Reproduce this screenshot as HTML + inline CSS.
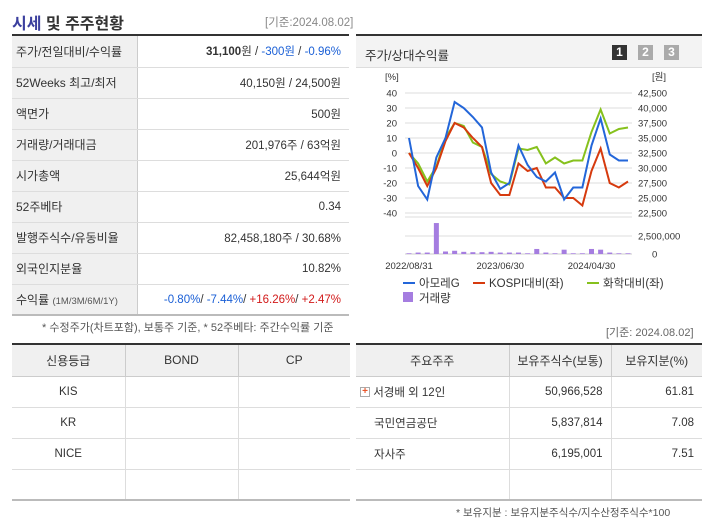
<!DOCTYPE html>
<html><head><meta charset="utf-8"><style>
*{margin:0;padding:0;box-sizing:border-box}
body{width:702px;height:525px;background:#fff;font-family:"Liberation Sans","Noto Sans CJK KR",sans-serif;font-size:12px;color:#333;position:relative;overflow:hidden}
.abs{position:absolute}
table{border-collapse:collapse;position:absolute;table-layout:fixed}
td,th{font-weight:normal;white-space:nowrap;overflow:hidden}
#t1 td{height:31px;border-bottom:1px solid #ddd;padding:0 8px}
#t1 td.l{background:#f0f0f0;border-right:1px solid #ccc;text-align:left;color:#333;font-size:12px;padding:0 4px}
#t1 td.r{text-align:right;font-size:11.5px}
.blue{color:#1a5fd6}.red{color:#d21a1a}
.t2 th{background:#f0f0f0;height:31px;border-right:1px solid #ccc;border-bottom:1px solid #ccc;font-size:12px}
.t2 td{height:31px;border-right:1px solid #ddd;border-bottom:1px solid #ddd;font-size:11.5px}
.t2 th:last-child,.t2 td:last-child{border-right:none}
</style></head><body>
<div class="abs" style="left:12px;top:10px;font-size:16px;font-weight:bold;color:#333"><span style="color:#3b3f9e">시세</span> 및 주주현황</div>
<div class="abs" style="left:265px;top:14px;font-size:11.5px;color:#888">[기준:2024.08.02]</div>
<div class="abs" style="left:12px;top:34px;width:337px;height:2px;background:#333"></div>
<table id="t1" style="left:12px;top:36px;width:337px">
<colgroup><col style="width:125px"><col></colgroup>
<tr><td class="l">주가/전일대비/수익률</td><td class="r"><b>31,100</b>원 / <span class="blue">-300원</span> / <span class="blue">-0.96%</span></td></tr>
<tr><td class="l">52Weeks 최고/최저</td><td class="r">40,150원 / 24,500원</td></tr>
<tr><td class="l">액면가</td><td class="r">500원</td></tr>
<tr><td class="l">거래량/거래대금</td><td class="r">201,976주 / 63억원</td></tr>
<tr><td class="l">시가총액</td><td class="r">25,644억원</td></tr>
<tr><td class="l">52주베타</td><td class="r">0.34</td></tr>
<tr><td class="l">발행주식수/유동비율</td><td class="r">82,458,180주 / 30.68%</td></tr>
<tr><td class="l">외국인지분율</td><td class="r">10.82%</td></tr>
<tr><td class="l">수익률 <span style="font-size:9.5px;color:#555">(1M/3M/6M/1Y)</span></td><td class="r"><span class="blue">-0.80%</span>/ <span class="blue">-7.44%</span>/ <span class="red">+16.26%</span>/ <span class="red">+2.47%</span></td></tr>
</table>
<div class="abs" style="left:12px;top:314px;width:337px;height:2px;background:#bbb"></div>
<div class="abs" style="left:42px;top:319px;font-size:11px;color:#555">* 수정주가(차트포함), 보통주 기준, * 52주베타: 주간수익률 기준</div>

<div class="abs" style="left:356px;top:34px;width:346px;height:275px;border-top:2px solid #333">
<div style="height:32px;background:#f3f3f3;border-bottom:1px solid #ddd;padding:9px 0 0 9px;font-size:12.5px">주가/상대수익률</div>
<div class="abs" style="left:256px;top:9px;width:15px;height:15px;background:#333;color:#fff;font-weight:bold;text-align:center;line-height:15px;font-size:12px">1</div>
<div class="abs" style="left:282px;top:9px;width:15px;height:15px;background:#aaa;color:#fff;font-weight:bold;text-align:center;line-height:15px;font-size:12px">2</div>
<div class="abs" style="left:308px;top:9px;width:15px;height:15px;background:#aaa;color:#fff;font-weight:bold;text-align:center;line-height:15px;font-size:12px">3</div>
</div>
<svg id="chart" class="abs" style="left:0;top:0" width="702" height="310"></svg>

<div class="abs" style="left:606px;top:324px;font-size:11px;color:#666">[기준: 2024.08.02]</div>
<div class="abs" style="left:12px;top:343px;width:338px;height:2px;background:#333"></div>
<table class="t2" style="left:12px;top:345px;width:338px;text-align:center">
<colgroup><col style="width:113px"><col style="width:113px"><col></colgroup>
<tr><th>신용등급</th><th>BOND</th><th>CP</th></tr>
<tr><td>KIS</td><td></td><td></td></tr>
<tr><td>KR</td><td></td><td></td></tr>
<tr><td>NICE</td><td></td><td></td></tr>
<tr><td></td><td></td><td></td></tr>
</table>
<div class="abs" style="left:12px;top:499px;width:338px;height:2px;background:#bbb"></div>

<div class="abs" style="left:356px;top:343px;width:346px;height:2px;background:#333"></div>
<table class="t2" style="left:356px;top:345px;width:346px">
<colgroup><col style="width:153px"><col style="width:102px"><col></colgroup>
<tr><th>주요주주</th><th>보유주식수(보통)</th><th>보유지분(%)</th></tr>
<tr><td style="padding-left:4px"><span style="display:inline-block;width:10px;height:10px;border:1px solid #aaa;color:#e8552a;font-size:10px;line-height:8px;text-align:center;font-weight:bold;vertical-align:middle">+</span> 서경배 외 12인</td><td style="text-align:right;padding-right:8px">50,966,528</td><td style="text-align:right;padding-right:8px">61.81</td></tr>
<tr><td style="padding-left:18px">국민연금공단</td><td style="text-align:right;padding-right:8px">5,837,814</td><td style="text-align:right;padding-right:8px">7.08</td></tr>
<tr><td style="padding-left:18px">자사주</td><td style="text-align:right;padding-right:8px">6,195,001</td><td style="text-align:right;padding-right:8px">7.51</td></tr>
<tr><td></td><td></td><td></td></tr>
</table>
<div class="abs" style="left:356px;top:499px;width:346px;height:2px;background:#bbb"></div>
<div class="abs" style="left:456px;top:505px;font-size:10.5px;color:#555">* 보유지분 : 보유지분주식수/지수산정주식수*100</div>

<script>
const xLabels=["2022/08/31","2023/06/30","2024/04/30"];
const xLabelIdx=[0,10,20];
const leftTicks=[40,30,20,10,0,-10,-20,-30,-40];
const rightTicks=["42,500","40,000","37,500","35,000","32,500","30,000","27,500","25,000","22,500"];
const amore=[10,-22,-31,-3,10,34,30,24,17,-13,-24,-20,5,-8,-16,-19,-13,-31,-23,-23,5,23,-1,-5,-5];
const kospi=[0,-10,-22,-10,8,20,17,10,4,-20,-28,-28,-7,-12,-10,-23,-23,-30,-30,-35,-12,3,-20,-23,-19];
const chem=[0,-7,-19,-9,10,20,18,7,4,-14,-19,-21,3,2,4,-7,-3,-7,-5,-5,14,29,13,16,17];
const volume=[0.1,0.2,0.2,4.3,0.35,0.45,0.3,0.25,0.25,0.3,0.2,0.2,0.2,0.1,0.7,0.2,0.1,0.6,0.1,0.1,0.7,0.6,0.2,0.1,0.1];
const svg=document.getElementById('chart');
const NS='http://www.w3.org/2000/svg';
const X0=409,X1=628,Y40=93,Y_40=213,V0=254,V25=236;
const x=i=>X0+(X1-X0)*i/(amore.length-1);
const y=v=>Y40+(40-v)*(Y_40-Y40)/80;
const yv=v=>V0-(v/2.5)*(V0-V25);
function mk(t,a){const e=document.createElementNS(NS,t);for(const k in a)e.setAttribute(k,a[k]);svg.appendChild(e);return e;}
function txt(s,a){const e=mk('text',Object.assign({'font-size':'9.5','fill':'#333','font-family':'Liberation Sans, Noto Sans CJK KR, sans-serif'},a));e.textContent=s;return e;}
txt('[%]',{x:385,y:80});txt('[원]',{x:652,y:80});
leftTicks.forEach((t,i)=>{const yy=y(t);
 const g=mk('line',{x1:405,x2:632,y1:yy,y2:yy,stroke:'#ddd'});
 
 
 const a=txt(String(t),{x:397,y:yy+3.5,'text-anchor':'end'});
 
 
 const b=txt(rightTicks[i],{x:638,y:yy+3.5});
 
 
});
mk('line',{x1:405,x2:632,y1:V25,y2:V25,stroke:'#ddd'});
mk('line',{x1:405,x2:632,y1:V0,y2:V0,stroke:'#ccc'});
mk('line',{x1:405,x2:632,y1:217,y2:217,stroke:'#ddd'});
txt('2,500,000',{x:638,y:V25+3.5});txt('0',{x:652,y:V0+3.5});
volume.forEach((v,i)=>{const r=mk('rect',{x:x(i)-2.5,y:yv(v),width:5,height:V0-yv(v),fill:'#a57de0'});
 
 });
xLabels.forEach((l,k)=>{const t=txt(l,{x:x(xLabelIdx[k]),y:269,'text-anchor':'middle'});
 
 });
[[chem,'#86c11d','chem-line'],[kospi,'#d63a0e','kospi-line'],[amore,'#2366d9','amore-line']].forEach(([d,c,n])=>{
 const p=mk('polyline',{points:d.map((v,i)=>x(i)+','+y(v)).join(' '),fill:'none',stroke:c,'stroke-width':2});
 
 });
const leg=[['아모레G','#2366d9',403],['KOSPI대비(좌)','#d63a0e',473],['화학대비(좌)','#86c11d',587]];
leg.forEach(([s,c,lx])=>{mk('line',{x1:lx,x2:lx+12,y1:283,y2:283,stroke:c,'stroke-width':2});
 const t=txt(s,{x:lx+16,y:287,'font-size':'11.5'});
 
 });
mk('rect',{x:403,y:292,width:10,height:10,fill:'#a57de0'});
const lt=txt('거래량',{x:419,y:302,'font-size':'11.5'});


</script>
</body></html>
